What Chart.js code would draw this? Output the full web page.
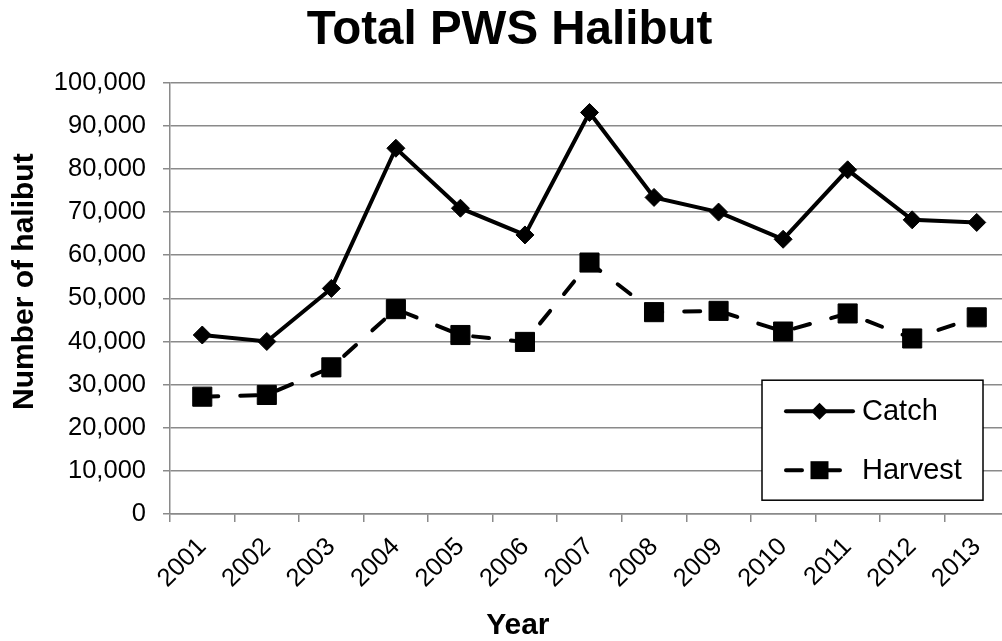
<!DOCTYPE html>
<html>
<head>
<meta charset="utf-8">
<script src="https://cdn.jsdelivr.net/npm/chart.js@4/dist/chart.umd.min.js"></script>
<style>
  html, body { margin: 0; padding: 0; background: #fff; overflow: hidden; }
  #wrap { width: 1010px; height: 641px; }
</style>
</head>
<body>
<div id="wrap"><canvas id="c" width="1010" height="641"></canvas></div>
<script>
// ---- data ----
const years = ['2001','2002','2003','2004','2005','2006','2007','2008','2009','2010','2011','2012','2013'];
const catchValues = [41500, 40000, 52300, 84800, 70900, 64700, 93100, 73400, 70000, 63700, 79800, 68200, 67600];
const harvestValues = [27200, 27600, 34000, 47500, 41500, 39900, 58300, 46800, 47100, 42300, 46500, 40700, 45600];
const yTicks = [0, 10000, 20000, 30000, 40000, 50000, 60000, 70000, 80000, 90000, 100000];
const titleText = 'Total PWS Halibut';
const xTitleText = 'Year';
const yTitleText = 'Number of halibut';

const FONT = "'Liberation Sans', Arial, Helvetica, sans-serif";
Chart.defaults.font.family = FONT;
Chart.defaults.color = '#000';
const GRID = '#8a8a8a';

const legendBox = {
  id: 'legendBox',
  afterDraw(chart) {
    const { ctx, chartArea: ca } = chart;
    const x0 = ca.left + 592, y0 = ca.top + 297.5, w = 221, h = 120;
    ctx.save();
    ctx.fillStyle = '#fff';
    ctx.fillRect(x0, y0, w, h);
    ctx.strokeStyle = '#000';
    ctx.lineWidth = 1.5;
    ctx.strokeRect(x0, y0, w, h);
    chart.data.datasets.forEach((ds, i) => {
      const y = y0 + 31 + i * 59;
      const lx0 = x0 + 22, lx1 = i === 0 ? x0 + 93 : x0 + 84;
      const mx = x0 + 57.5;
      ctx.strokeStyle = ds.borderColor;
      ctx.lineWidth = ds.borderWidth;
      ctx.lineCap = 'round';
      ctx.setLineDash(ds.borderDash ? [16, 22] : []);
      ctx.beginPath();
      ctx.moveTo(lx0 + 2, y);
      ctx.lineTo(lx1 - 2, y);
      ctx.stroke();
      ctx.setLineDash([]);
      ctx.fillStyle = ds.pointBackgroundColor;
      ctx.beginPath();
      if (ds.pointStyle === 'rectRot') {
        const r = 8.5;
        ctx.moveTo(mx, y - r); ctx.lineTo(mx + r, y); ctx.lineTo(mx, y + r); ctx.lineTo(mx - r, y);
      } else {
        const s = 9;
        ctx.rect(mx - s, y - s, 2 * s, 2 * s);
      }
      ctx.closePath();
      ctx.fill();
      ctx.fillStyle = '#000';
      ctx.font = '29px ' + FONT;
      ctx.textAlign = 'left';
      ctx.textBaseline = 'middle';
      ctx.fillText(ds.label, x0 + 100, y + 1);
    });
    ctx.restore();
  }
};

new Chart(document.getElementById('c'), {
  type: 'line',
  data: {
    labels: years,
    datasets: [
      {
        label: 'Catch',
        data: catchValues,
        borderColor: '#000',
        backgroundColor: '#000',
        borderWidth: 4,
        pointStyle: 'rectRot',
        pointRadius: 9,
        pointBorderWidth: 1,
        pointBackgroundColor: '#000',
        pointBorderColor: '#000',
        tension: 0,
        fill: false
      },
      {
        label: 'Harvest',
        data: harvestValues,
        borderColor: '#000',
        backgroundColor: '#000',
        borderWidth: 4,
        borderDash: [16, 22],
        borderCapStyle: 'round',
        pointStyle: 'rect',
        pointRadius: 13.5,
        pointBorderWidth: 1,
        pointBackgroundColor: '#000',
        pointBorderColor: '#000',
        tension: 0,
        fill: false
      }
    ]
  },
  options: {
    responsive: false,
    devicePixelRatio: 1,
    animation: false,
    events: [],
    layout: { autoPadding: false, padding: { left: 10, right: 1, top: 0, bottom: 0 } },
    plugins: {
      legend: { display: false },
      tooltip: { enabled: false },
      title: {
        display: true,
        text: titleText,
        color: '#000',
        font: { size: 47.5, weight: 'bold', lineHeight: 1.2 },
        padding: { top: 2.3, bottom: 23.4 }
      },
      subtitle: {
        display: true,
        position: 'bottom',
        text: '  ' + xTitleText,
        color: '#000',
        font: { size: 30, weight: 'bold', lineHeight: 1 },
        padding: { top: 0, bottom: 0 }
      }
    },
    scales: {
      x: {
        type: 'category',
        offset: true,
        grid: { display: true, offset: true, drawOnChartArea: false, drawTicks: true, tickLength: 8, color: GRID, lineWidth: 1.5 },
        border: { display: true, color: GRID, width: 1.5 },
        ticks: { font: { size: 25.5 }, color: '#000', minRotation: 45, maxRotation: 45, padding: 10, autoSkip: false },
        afterFit(scale) { scale.height = 97; scale.paddingLeft = 0; scale.paddingRight = 0; }
      },
      y: {
        min: 0,
        max: 100000,
        afterBuildTicks(scale) { scale.ticks = yTicks.map(v => ({ value: v })); },
        grid: { color: GRID, lineWidth: 1.5, drawTicks: true, tickLength: 7 },
        border: { display: true, color: GRID, width: 1.5 },
        ticks: {
          font: { size: 25.5 },
          color: '#000',
          padding: 17,
          callback: v => Number(v).toLocaleString('en-US')
        },
        title: {
          display: true,
          text: '    ' + yTitleText,
          color: '#000',
          font: { size: 30, weight: 'bold', lineHeight: 0.45 },
          padding: { top: 7.5, bottom: 0 }
        },
        afterFit(scale) { scale.width = 160; scale.paddingTop = 0; scale.paddingBottom = 0; }
      }
    }
  },
  plugins: [legendBox]
});
</script>
</body>
</html>
